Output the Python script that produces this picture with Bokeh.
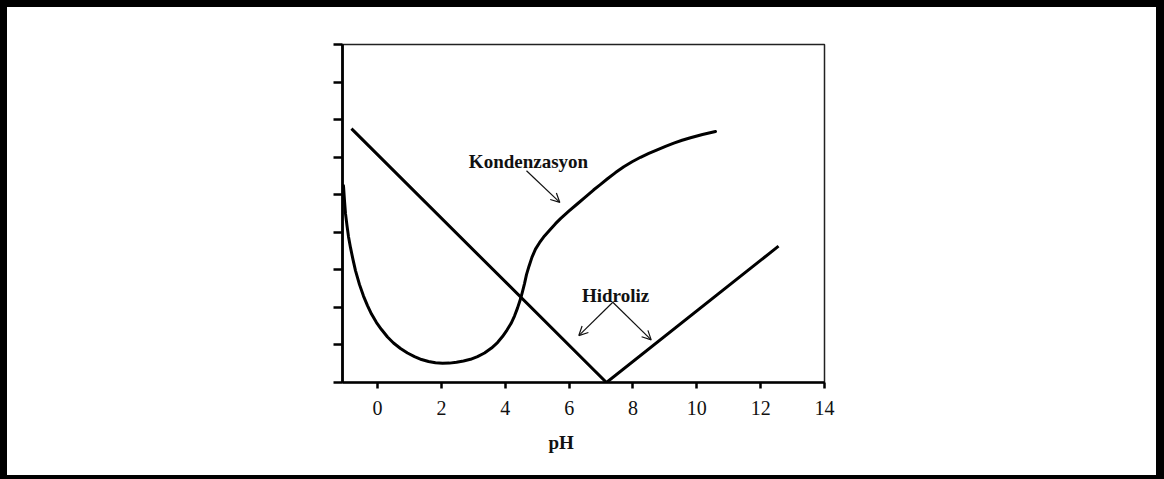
from bokeh.plotting import figure
from bokeh.models import Range1d, FixedTicker, Label, Arrow, OpenHead, Title
from bokeh.embed import file_html
from bokeh.resources import INLINE

# ---- data ----
# Hidroliz (hydrolysis) rate vs pH: V shaped
hyd_ph = [-0.82, 7.17, 12.56]
hyd_rate = [6.76, 0.0, 3.63]

# Kondenzasyon (condensation) rate vs pH
cond_ph = [-1.069, -1.037, -1.006, -0.959, -0.912, -0.849, -0.771, -0.693, -0.567, -0.442,
           -0.317, -0.191, -0.035, 0.122, 0.310, 0.498, 0.717, 0.936, 1.156, 1.375,
           1.594, 1.813, 2.033, 2.252, 2.471, 2.691, 2.910, 3.129, 3.349, 3.568,
           3.756, 3.912, 4.053, 4.179, 4.288, 4.382, 4.476, 4.539, 4.602, 4.664,
           4.743, 4.837, 4.946, 5.072, 5.228, 5.416, 5.573, 5.730, 5.990, 6.253,
           6.506, 6.763, 6.976, 7.192, 7.453, 7.713, 7.973, 8.236, 8.496, 8.759,
           9.019, 9.279, 9.539, 9.802, 10.178, 10.585]
cond_rate = [5.239, 4.840, 4.495, 4.176, 3.883, 3.590, 3.271, 2.979, 2.606, 2.301,
             2.048, 1.822, 1.596, 1.410, 1.210, 1.051, 0.904, 0.785, 0.691, 0.612,
             0.559, 0.524, 0.511, 0.516, 0.537, 0.572, 0.617, 0.691, 0.785, 0.918,
             1.064, 1.223, 1.396, 1.569, 1.769, 1.981, 2.221, 2.420, 2.633, 2.872,
             3.098, 3.338, 3.551, 3.723, 3.902, 4.082, 4.229, 4.362, 4.561, 4.753,
             4.939, 5.125, 5.271, 5.418, 5.590, 5.745, 5.878, 5.997, 6.101, 6.197,
             6.290, 6.375, 6.450, 6.516, 6.604, 6.684]

x_ticks = [0, 2, 4, 6, 8, 10, 12, 14]
y_ticks = [0, 1, 2, 3, 4, 5, 6, 7, 8, 9]

x_label = "pH"
label_cond = "Kondenzasyon"
label_hyd = "Hidroliz"

SERIF = "Liberation Serif"

p = figure(width=1164, height=479, output_backend="svg", toolbar_location=None,
           x_range=Range1d(-1.1, 14), y_range=Range1d(0, 9),
           min_border_left=342, min_border_right=340,
           min_border_top=44, min_border_bottom=97)
p.margin = (0, 0, 0, 0)
p.styles = {"box-shadow": "inset 7px 7px 0 0 #000000, inset -8px -4px 0 0 #000000"}
p.border_fill_color = None
p.background_fill_color = "white"
p.outline_line_color = "#222222"
p.outline_line_width = 1.5
p.xgrid.visible = False
p.ygrid.visible = False

# x axis
xa = p.xaxis[0]
xa.ticker = FixedTicker(ticks=x_ticks)
xa.axis_line_width = 2.5
xa.axis_line_color = "black"
xa.major_tick_line_width = 2.5
xa.major_tick_line_color = "black"
xa.major_tick_out = 6
xa.major_tick_in = 0
xa.minor_tick_line_color = None
xa.major_label_text_font = SERIF
xa.major_label_text_font_size = "20px"
xa.major_label_text_color = "#111111"
xa.major_label_standoff = 12

# y axis (no labels)
ya = p.yaxis[0]
ya.ticker = FixedTicker(ticks=y_ticks)
ya.axis_line_width = 2.8
ya.axis_line_color = "black"
ya.major_tick_line_width = 2.5
ya.major_tick_line_color = "black"
ya.major_tick_out = 9
ya.major_tick_in = 0
ya.minor_tick_line_color = None
ya.major_label_text_font_size = "0px"
ya.major_label_text_color = None
ya.major_label_standoff = 0

# curves
p.line(hyd_ph, hyd_rate, line_width=3, line_color="black", line_join="round")
p.line(cond_ph, cond_rate, line_width=3, line_color="black", line_join="round",
       line_cap="round")

# axis label (offset to the left of the centre in the original)
p.add_layout(Title(text=x_label, align="left", offset=206, standoff=24,
                   text_font=SERIF, text_font_size="19px",
                   text_font_style="bold", text_color="#111111"), "below")

# annotations
p.add_layout(Label(x=4.727, y=5.886, text=label_cond, text_font=SERIF,
                   text_font_size="19px", text_font_style="bold",
                   text_color="#111111", text_align="center",
                   text_baseline="alphabetic"))
p.add_layout(Label(x=7.453, y=2.314, text=label_hyd, text_font=SERIF,
                   text_font_size="19px", text_font_style="bold",
                   text_color="#111111", text_align="center",
                   text_baseline="alphabetic"))

def arrow(x0, y0, x1, y1):
    p.add_layout(Arrow(end=OpenHead(size=9, line_width=1.2, line_color="#111111"),
                       x_start=x0, y_start=y0, x_end=x1, y_end=y1,
                       line_width=1.2, line_color="#111111"))

arrow(4.664, 5.638, 5.708, 4.795)
arrow(7.368, 2.136, 6.303, 1.250)
arrow(7.368, 2.136, 8.571, 1.136)

open("out.html", "w").write(file_html(p, INLINE))
